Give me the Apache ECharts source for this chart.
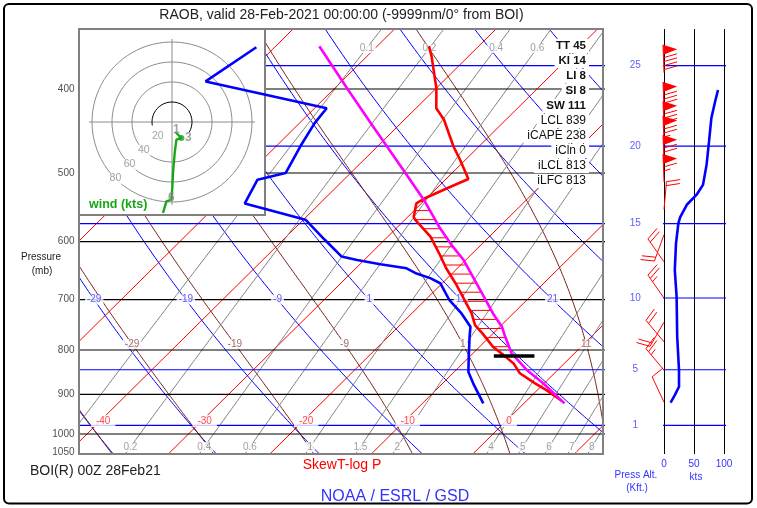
<!DOCTYPE html>
<html><head><meta charset="utf-8">
<script src="https://cdn.jsdelivr.net/npm/echarts@6/dist/echarts.min.js"></script>
<style>html,body{margin:0;padding:0;background:#fff}#c{width:757px;height:508px}</style>
</head><body><div id="c"></div>
<script>
// ---------------- DATA ----------------
const tempP   = [357,367,389,399,421,434,466,483,508,521,535,542,562,566,592,622,644,670,701,726,749,765,793,811,829,851,874,890,910,916];
const tempT   = [-44.9,-43.6,-41.1,-40.0,-38.0,-36.1,-32.5,-30.5,-27.8,-29.0,-30.2,-30.5,-29.4,-29.0,-25.8,-23.0,-21.1,-18.7,-16.1,-14.1,-12.6,-11.1,-8.7,-6.8,-5.0,-3.4,-0.9,0.9,2.9,3.5];
const dewP    = [358,392,421,438,466,500,509,542,566,597,624,630,637,644,653,661,670,701,726,752,772,814,848,874,922];
const dewT    = [-61.8,-63.4,-48.8,-48.5,-47.6,-46.4,-48.5,-47.4,-39.8,-35.9,-32.6,-30.7,-28.0,-25.0,-23.5,-21.7,-20.2,-17.6,-15.1,-12.9,-12.0,-10.1,-8.6,-7.0,-4.0];
const parcelP = [357,401,442,500,537,577,608,630,659,694,726,752,772,807,844,874,922];
const parcelT = [-55.7,-48.5,-42.4,-34.6,-30.1,-25.9,-22.6,-20.2,-17.6,-14.6,-12.0,-9.8,-8.5,-6.2,-3.0,-0.1,4.0];
const lclP    = 813;

const spdP  = [401,414,432,460,489,516,530,544,562,571,603,647,694,772,844,882,902,920];
const spdKt = [90,85,79,75,71,65,54,38,27,24,20,18,21,22,25,25,18,11];

const barbP   = [383,423,445,463,487,512,551,589,633,697,743,783,844,919];
const barbDir = [358,358,358,358,358,358,5,200,325,325,210,320,320,335];
const barbKt  = [90,85,80,75,70,65,20,20,20,25,20,20,25,10];

const hodoU = [3.4,9.4,4.4,2.7,1.0,0.4,-0.6,-5.6,-9.0];
const hodoV = [-10.0,-16.0,-17.7,-31.0,-51.0,-64.4,-77.7,-79.4,-91.0];
const hodoKmIdx = [0,1,6];
const hodoKmLabels = ['1','3','6'];

const isobars = [400,500,600,700,800,900,1000];
const pressureLabels = [400,500,600,700,800,900,1000,1050];
const isotherms = [-100,-90,-80,-70,-60,-50,-40,-30,-20,-10,0,10,20,30,40];
const isothermLabels = [-40,-30,-20,-10,0];
const dryAdiabats = [-49,-39,-29,-19,-9,1,11,21,31,41,51,61];
const dryLabels = [-29,-19,-9,1,11,21];
const moistAdiabats = [-39,-29,-19,-9,1,11,21];
const moistLabels = [-29,-19,-9,1,11];
const mixRatios = [0.1,0.2,0.4,0.6,1,1.5,2,4,5,6,7,8,10];
const mixTopLabels = [0.1,0.2,0.4,0.6];
const mixBottomLabels = [0.2,0.4,0.6,1,1.5,2,4,5,6,7,8];
const heightKft = [1,5,10,15,20,25];
const heightKftMain = [1,5,15,20,25];
const hodoRings = [40,60,80];
const hodoRingLabels = [20,40,60,80];
const indexNames  = ['TT','KI','LI','SI','SW','LCL','iCAPE','iCln','iLCL','iLFC'];
const indexValues = [45,14,8,8,111,839,238,0,813,813];

// label nudges (style, pixels)
const hodoKmOffsets = [[1,-2],[7,0],[0,-2]];

// ---------------- geometry helpers ----------------
const FF = '"Liberation Sans", Arial, sans-serif';
const SKEW = 37.465, PX_C = 10.15;
const P_TOP = 341.07, P_BOT = 1054.56;
const X_MIN = (79 - 493) / PX_C, X_MAX = (603 - 493) / PX_C;
const YMIN = Math.log(P_TOP), YMAX = Math.log(P_BOT);
function sk(p, t) { return [t + SKEW * Math.log(1000 / p), Math.log(p)]; }
function pAlt(kft) { return 1013.25 * Math.pow(1 - 6.87559e-6 * kft * 1000, 5.25588); }
function esat(tc) { return 6.112 * Math.exp(17.67 * tc / (tc + 243.5)); }
function dTdp(TK, p) {
  const es = esat(TK - 273.15), rs = 0.622 * es / (p - es);
  const Rd = 287.04, Cp = 1005.7, Lv = 2.501e6;
  return ((Rd * TK + Lv * rs) / p) / (Cp + (Lv * Lv * rs * 0.622) / (Rd * TK * TK));
}
function moistT(thw, p) {
  let T = thw + 273.15, pp = 1000;
  const n = Math.max(1, Math.ceil(Math.abs(p - 1000) / 3)), h = (p - 1000) / n;
  for (let i = 0; i < n; i++) {
    const k1 = dTdp(T, pp), k2 = dTdp(T + h * k1 / 2, pp + h / 2), k3 = dTdp(T + h * k2 / 2, pp + h / 2), k4 = dTdp(T + h * k3, pp + h);
    T += h * (k1 + 2 * k2 + 2 * k3 + k4) / 6; pp += h;
  }
  return T - 273.15;
}
function mixT(w, p) { const e = w * p / (622 + w), l = Math.log(e / 6.112); return 243.5 * l / (17.67 - l); }
function interpLogP(Ps, Ts, p) {
  for (let i = 0; i < Ps.length - 1; i++) {
    if (p >= Ps[i] && p <= Ps[i + 1]) { const f = Math.log(p / Ps[i]) / Math.log(Ps[i + 1] / Ps[i]); return Ts[i] + f * (Ts[i + 1] - Ts[i]); }
  }
  return NaN;
}
const levels = []; for (let p = 1065; p >= 330; p -= 5) levels.push(p);

const series = [];
function bgLine(data, color, width, z, ax, extra) {
  series.push(Object.assign({ type: 'line', xAxisIndex: ax || 0, yAxisIndex: ax || 0, data, symbol: 'none', showSymbol: false, silent: true,
    lineStyle: { color, width }, z: z || 1 }, extra || {}));
}
function labelSeries(items, color, o) {
  o = o || {};
  series.push({ type: 'scatter', xAxisIndex: o.ax || 0, yAxisIndex: o.ax || 0, symbolSize: 1, itemStyle: { color: 'rgba(0,0,0,0)' },
    silent: true, clip: false, z: o.z || 2, data: items,
    label: { show: true, formatter: '{b}', position: o.position || 'inside', distance: o.distance === undefined ? 5 : o.distance,
      offset: o.offset || [0, 0], color, fontSize: o.size || 10, fontWeight: o.weight || 'normal', fontFamily: FF,
      backgroundColor: o.bg === undefined ? '#fff' : o.bg, padding: o.pad || [0, 2] } });
}

// ---------------- skew-T background ----------------
isotherms.forEach(t => bgLine([sk(1080, t), sk(330, t)], '#ff0000', 1));
dryAdiabats.forEach(th => bgLine(levels.map(p => sk(p, (th + 273.15) * Math.pow(p / 1000, 0.2857) - 273.15)), '#0000ff', 1));
moistAdiabats.forEach(th => bgLine(levels.map(p => sk(p, moistT(th, p))), '#7a2418', 1));
mixRatios.forEach(w => bgLine(levels.map(p => sk(p, mixT(w, p))), '#808080', 1));
isobars.forEach(p => bgLine([[X_MIN - 5, Math.log(p)], [X_MAX + 5, Math.log(p)]], '#000000', 1.2));
heightKftMain.forEach(h => { const p = pAlt(h); bgLine([[X_MIN - 5, Math.log(p)], [X_MAX + 5, Math.log(p)]], '#0000ff', 1.2); });

// grid labels
labelSeries(isothermLabels.map(t => ({ name: String(t), value: sk(966, t) })), '#ff2020', { offset: [3, 0], pad: [1, 5] });
labelSeries(dryLabels.map(t => ({ name: String(t), value: sk(700, (t + 273.15) * Math.pow(0.7, 0.2857) - 273.15) })), '#3333ff', { pad: [0, 2] });
labelSeries(moistLabels.map(t => ({ name: String(t), value: sk(787.4, moistT(t, 787.4)) })), '#8a4a40', { pad: [0, 2] });
labelSeries(mixTopLabels.map(w => ({ name: String(w), value: sk(358.7, mixT(w, 358.7)) })), '#8a8a8a', { pad: [0, 2] });
labelSeries(mixBottomLabels.map(w => ({ name: String(w), value: sk(1035, mixT(w, 1035)) })), '#8a8a8a', { pad: [0, 2] });
labelSeries(pressureLabels.map(p => ({ name: String(p), value: [X_MIN, Math.log(p)] })), '#222', { position: 'left', distance: 4, bg: 'transparent', pad: [0, 0] });

// CAPE hatching
const HATCH_BASE = 793, HATCH_STEP = 0.0241;
for (let k = 0; k < 40; k++) {
  const p = HATCH_BASE * Math.exp(-HATCH_STEP * k);
  const te = interpLogP(tempP, tempT, p), tp = interpLogP(parcelP, parcelT, p);
  if (!(tp > te)) break;
  bgLine([sk(p, te), sk(p, tp)], '#ff0000', 1, 4);
}

// profiles
bgLine(tempP.map((p, i) => sk(p, tempT[i])), '#ff0000', 2.6, 5);
bgLine(parcelP.map((p, i) => sk(p, parcelT[i])), '#ff00ff', 2.6, 5);
bgLine(dewP.map((p, i) => sk(p, dewT[i])), '#0000ff', 2.6, 6);
const lclT = interpLogP(parcelP, parcelT, lclP);
bgLine([sk(lclP, lclT - 2.0), sk(lclP, lclT + 2.0)], '#000000', 3.5, 6);

// ---------------- right panel ----------------
heightKft.forEach(h => { const p = Math.log(pAlt(h)); bgLine([[-101.2, p], [122.7, p]], '#0000ff', 1.2, 1, 1, { clip: false }); });
labelSeries(heightKft.map(h => ({ name: String(h), value: [-48, Math.log(pAlt(h))] })), '#3333ff', { ax: 1, pad: [0, 4] });
bgLine(spdP.map((p, i) => [spdKt[i], Math.log(p)]), '#0000ff', 2.6, 5, 1, { clip: false });
series.push({
  type: 'custom', xAxisIndex: 1, yAxisIndex: 1, z: 5, silent: true, clip: false,
  data: barbP.map((p, i) => [0, Math.log(p), barbDir[i], barbKt[i]]),
  renderItem: function (params, api) {
    const st = api.coord([0, api.value(1)]);
    const a = api.value(2) * Math.PI / 180, spd = api.value(3);
    const dx = Math.sin(a), dy = -Math.cos(a), px = Math.cos(a), py = Math.sin(a);
    const L = 28, F = 14, S = 4, FW = 10, col = '#ff0000';
    const end = [st[0] + dx * L, st[1] + dy * L];
    const ch = [{ type: 'line', shape: { x1: st[0], y1: st[1], x2: end[0], y2: end[1] }, style: { stroke: col, lineWidth: 1 } }];
    let rem = Math.round(spd / 5) * 5, pos = 0;
    while (rem >= 50) {
      const p1 = [end[0] - dx * pos, end[1] - dy * pos], p2 = [end[0] - dx * (pos + FW), end[1] - dy * (pos + FW)];
      const tip = [end[0] - dx * (pos + FW / 2) + px * F, end[1] - dy * (pos + FW / 2) + py * F];
      ch.push({ type: 'polygon', shape: { points: [p1, tip, p2] }, style: { fill: col } });
      pos += FW + 3; rem -= 50;
    }
    function feather(len) {
      const b = [end[0] - dx * pos, end[1] - dy * pos];
      ch.push({ type: 'line', shape: { x1: b[0], y1: b[1], x2: b[0] + len * (0.97 * px + 0.24 * dx), y2: b[1] + len * (0.97 * py + 0.24 * dy) }, style: { stroke: col, lineWidth: 1 } });
      pos += S;
    }
    while (rem >= 10) { feather(F); rem -= 10; }
    if (rem >= 5) feather(F / 2);
    return { type: 'group', children: ch };
  }
});

// ---------------- hodograph ----------------
const H = 2;
bgLine([[-83, 0], [83, 0]], '#8c8c8c', 1, 4, H);
bgLine([[0, -83], [0, 83]], '#8c8c8c', 1, 4, H);
hodoRings.forEach(r => { const pts = []; for (let d = 0; d <= 360; d += 4) pts.push([r * Math.cos(d * Math.PI / 180), r * Math.sin(d * Math.PI / 180)]); bgLine(pts, '#8c8c8c', 1, 4, H); });
(function () { const pts = []; for (let d = -30; d <= 192; d += 4) pts.push([20 * Math.cos(d * Math.PI / 180), 20 * Math.sin(d * Math.PI / 180)]); bgLine(pts, '#000000', 1, 4, H); })();
labelSeries(hodoRingLabels.map(r => ({ name: String(r), value: [-0.707 * r, -0.707 * r] })), '#8c8c8c', { ax: H, z: 4, pad: [0, 1], size: 10.5 });
bgLine(hodoU.map((u, i) => [u, hodoV[i]]), '#17a817', 2.4, 5, H);
series.push({ type: 'scatter', xAxisIndex: H, yAxisIndex: H, z: 5, silent: true, symbolSize: 6, itemStyle: { color: '#17a817' }, data: [[hodoU[1], hodoV[1]]] });
labelSeries(hodoKmIdx.map((k, i) => ({ name: hodoKmLabels[i], value: [hodoU[k], hodoV[k]], label: { offset: hodoKmOffsets[i] } })), '#8c8c8c', { ax: H, z: 6, bg: 'transparent', weight: 'bold', size: 12 });

// ---------------- texts ----------------
function txt(x, y, text, o) {
  o = o || {};
  const st = { text, fill: o.color || '#222', font: (o.weight || 'normal') + ' ' + (o.size || 12) + 'px ' + FF,
    textAlign: o.align || 'left', align: o.align || 'left', textVerticalAlign: 'middle', verticalAlign: 'middle' };
  if (o.bg) { st.backgroundColor = o.bg; st.padding = o.pad || [0, 0]; }
  return { type: 'text', x, y, z: o.z || 10, silent: true, style: st };
}
const g = [];
g.push({ type: 'rect', z: 0, silent: true, shape: { x: 4, y: 4, width: 748, height: 499.5, r: 5 }, style: { fill: 'none', stroke: '#000', lineWidth: 2 } });
g.push(txt(341.5, 15, 'RAOB, valid 28-Feb-2021 00:00:00 (-9999nm/0\u00b0 from BOI)', { size: 14, align: 'center' }));
indexNames.forEach((n, i) => {
  const bold = i < 5;
  g.push(txt(589, 46 + 15 * i, n + ' ' + indexValues[i], { size: bold ? 11.5 : 12, weight: bold ? 'bold' : 'normal', align: 'right', bg: '#fff', pad: [1, 3, 1, 4], color: '#111' }));
});
g.push(txt(41, 257, 'Pressure', { size: 10, align: 'center' }));
g.push(txt(42, 271, '(mb)', { size: 10, align: 'center' }));
g.push(txt(89, 205, 'wind (kts)', { size: 12.5, weight: 'bold', color: '#17a817', z: 12 }));
g.push(txt(30, 471, 'BOI(R) 00Z 28Feb21', { size: 14 }));
g.push(txt(342, 465, 'SkewT-log P', { size: 14, align: 'center', color: '#ff0000' }));
g.push(txt(395, 497, 'NOAA / ESRL / GSD', { size: 16, align: 'center', color: '#3333ff' }));
g.push(txt(636, 475, 'Press Alt.', { size: 10, align: 'center', color: '#3333ff' }));
g.push(txt(637, 488, '(Kft.)', { size: 10, align: 'center', color: '#3333ff' }));
g.push(txt(696, 477.5, 'kts', { size: 10, align: 'center', color: '#3333ff' }));

const hidden = { show: false };
const option = {
  animation: false,
  grid: [
    { left: 79, top: 29, width: 524, height: 425, show: true, borderColor: '#808080', borderWidth: 2, backgroundColor: 'transparent', z: 2 },
    { left: 664, top: 29, width: 60, height: 425 },
    { left: 79, top: 29, width: 186, height: 186, show: true, backgroundColor: '#fff', borderColor: '#808080', borderWidth: 2, z: 3 }
  ],
  xAxis: [
    { type: 'value', gridIndex: 0, min: X_MIN, max: X_MAX, show: false },
    { type: 'value', gridIndex: 1, min: 0, max: 100, interval: 50, axisLine: hidden, axisTick: hidden,
      splitLine: { show: true, lineStyle: { color: '#000', width: 1 } },
      axisLabel: { color: '#3333ff', fontSize: 10, margin: 5, fontFamily: FF } },
    { type: 'value', gridIndex: 2, min: -93, max: 93, show: false }
  ],
  yAxis: [
    { type: 'value', gridIndex: 0, min: YMIN, max: YMAX, inverse: true, show: false },
    { type: 'value', gridIndex: 1, min: YMIN, max: YMAX, inverse: true, show: false },
    { type: 'value', gridIndex: 2, min: -93, max: 93, show: false }
  ],
  graphic: { elements: g },
  series
};
const chart = echarts.init(document.getElementById('c'), null, { renderer: 'canvas' });
chart.setOption(option);
</script></body></html>
